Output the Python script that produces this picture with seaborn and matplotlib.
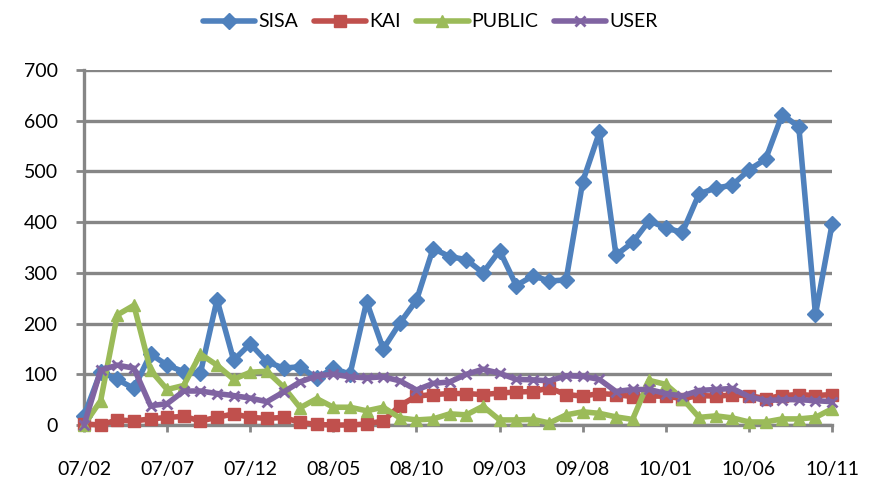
import seaborn as sns
import pandas as pd
import numpy as np
from matplotlib import pyplot as plt

sns.set_theme(style="white")
plt.rcParams["font.family"] = ["Lato", "DejaVu Sans"]
plt.rcParams["text.color"] = "black"
plt.rcParams["xtick.color"] = "black"
plt.rcParams["ytick.color"] = "black"

# monthly points 2007/02 .. 2010/11
MONTHS = ([f"07/{m:02d}" for m in range(2, 13)] + [f"08/{m:02d}" for m in range(1, 13)]
          + [f"09/{m:02d}" for m in range(1, 13)] + [f"10/{m:02d}" for m in range(1, 12)])

SISA = [18, 105, 90, 72, 140, 118, 105, 102, 247, 128, 160, 125, 112, 115, 92, 112,
        100, 243, 150, 201, 246, 348, 332, 326, 300, 344, 275, 294, 284, 286, 480, 577,
        335, 360, 403, 388, 380, 456, 467, 473, 503, 524, 612, 588, 218, 396]
KAI = [2, 0, 10, 8, 12, 15, 17, 8, 15, 22, 15, 13, 15, 5, 1, 0, 0, 2, 8, 38, 57, 60,
       62, 62, 60, 63, 65, 66, 73, 60, 57, 62, 60, 56, 57, 57, 52, 58, 57, 59, 58, 52,
       58, 60, 58, 60]
PUBLIC = [0, 48, 217, 236, 108, 70, 78, 140, 118, 90, 104, 106, 75, 34, 52, 35, 35, 28,
          35, 14, 10, 12, 22, 20, 37, 10, 10, 11, 4, 20, 26, 23, 16, 11, 88, 80, 52, 15,
          18, 14, 6, 6, 12, 12, 15, 32]
USER = [0, 108, 118, 112, 38, 42, 67, 67, 62, 58, 53, 46, 65, 85, 97, 100, 95, 93, 95,
        87, 69, 82, 85, 100, 110, 102, 90, 89, 87, 97, 96, 90, 66, 70, 70, 62, 57, 68,
        70, 72, 56, 48, 50, 50, 48, 46]

SERIES = {"SISA": SISA, "KAI": KAI, "PUBLIC": PUBLIC, "USER": USER}
COLORS = {"SISA": "#4F81BD", "KAI": "#C0504D", "PUBLIC": "#9BBB59", "USER": "#8064A2"}
MARKERS = {"SISA": "D", "KAI": "s", "PUBLIC": "^", "USER": "x"}

df = pd.DataFrame([
    {"idx": i, "month": m, "series": name, "value": v}
    for name, vals in SERIES.items()
    for i, (m, v) in enumerate(zip(MONTHS, vals))
])

fig = plt.figure(figsize=(8.78, 4.88), dpi=100)
ax = fig.add_axes([0.0957, 0.1291, 0.852, 0.7275])

grid_c = "#868686"
for name in SERIES:
    sub = df[df["series"] == name]
    mk = MARKERS[name]
    sns.lineplot(data=sub, x="idx", y="value", ax=ax, color=COLORS[name],
                 marker=mk, markersize=8 if mk != "x" else 7,
                 markeredgecolor=COLORS[name],
                 markeredgewidth=1 if mk != "x" else 2,
                 linewidth=4, label=name, clip_on=False, zorder=3)

ax.set_xlim(0, len(MONTHS) - 1)
ax.set_ylim(0, 700)
ax.set_yticks(range(0, 701, 100))
tick_pos = list(range(0, len(MONTHS), 5))
ax.set_xticks(tick_pos)
ax.set_xticklabels([MONTHS[i] for i in tick_pos])
ax.set_xlabel("")
ax.set_ylabel("")

ax.grid(axis="y", color=grid_c, linewidth=2.4)
ax.set_axisbelow(True)
for s in ["top", "right"]:
    ax.spines[s].set_visible(False)
for s in ["left", "bottom"]:
    ax.spines[s].set_color(grid_c)
    ax.spines[s].set_linewidth(2.4)
ax.tick_params(axis="x", direction="out", length=5, width=2, color=grid_c,
               labelcolor="black", pad=21, labelsize=14, bottom=True)
ax.tick_params(axis="y", direction="out", length=6, width=2, color=grid_c,
               labelcolor="black", pad=13, labelsize=14, left=True)

ax.legend_.remove()
handles, labels = ax.get_legend_handles_labels()
fig.legend(handles, labels, loc="center", bbox_to_anchor=(0.49, 0.955), ncol=4,
           frameon=False, fontsize=14, handlelength=2.7, handletextpad=0.15,
           columnspacing=0.8)

fig.savefig("out.png", dpi=100)
